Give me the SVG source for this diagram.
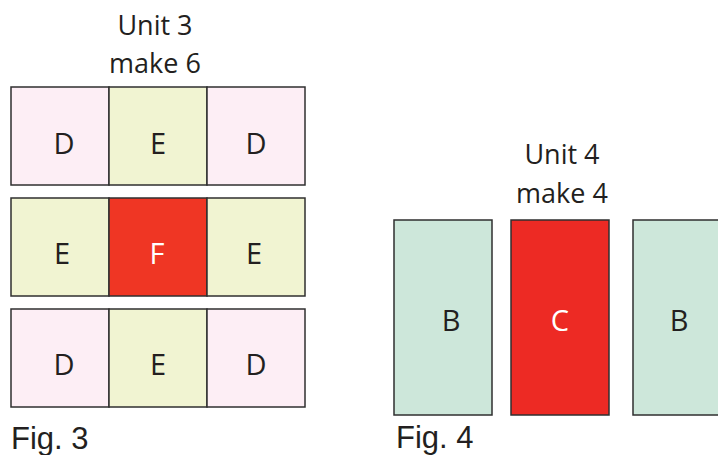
<svg xmlns="http://www.w3.org/2000/svg" width="718" height="455" viewBox="0 0 718 455">
<style>
.c{stroke:#2f2f2f;stroke-width:1.5}
.d{fill:#fdeef5}
.e{fill:#f1f4d2}
.f{fill:#ef3624}
.g{fill:#cde7da}
.r{fill:#ed2a24}
.t{font-family:"Open Sans","Noto Sans",sans-serif;font-size:27px;fill:#231f20;text-anchor:middle}
.l{font-size:29px}
.w{fill:#ffffff}
.fig{font-family:"Liberation Sans",Arial,sans-serif;font-size:31px;fill:#231f20}
</style>
<rect width="718" height="455" fill="#ffffff"/>
<g id="fig3">
<text class="t" x="155" y="35">Unit 3</text>
<text class="t" x="155" y="73">make 6</text>
<g id="r1">
<rect class="c d" x="11" y="87" width="98" height="98"/>
<rect class="c e" x="109" y="87" width="98" height="98"/>
<rect class="c d" x="207" y="87" width="98" height="98"/>
<text class="t l" x="64" y="154">D</text><text class="t l" x="158" y="154">E</text><text class="t l" x="256" y="154">D</text>
</g>
<g id="r2">
<rect class="c e" x="11" y="198" width="98" height="98"/>
<rect class="c f" x="109" y="198" width="98" height="98"/>
<rect class="c e" x="207" y="198" width="98" height="98"/>
<text class="t l" x="62" y="264">E</text><text class="t l w" x="157" y="264">F</text><text class="t l" x="254" y="264">E</text>
</g>
<g id="r3">
<rect class="c d" x="11" y="309" width="98" height="98"/>
<rect class="c e" x="109" y="309" width="98" height="98"/>
<rect class="c d" x="207" y="309" width="98" height="98"/>
<text class="t l" x="64" y="375">D</text><text class="t l" x="158" y="375">E</text><text class="t l" x="256" y="375">D</text>
</g>
<text class="fig" x="11" y="449">Fig. 3</text>
</g>
<g id="fig4">
<text class="t" x="562" y="164">Unit 4</text>
<text class="t" x="562" y="203">make 4</text>
<g id="b1"><rect class="c g" x="394" y="220" width="98" height="195"/><text class="t l" x="451" y="331">B</text></g>
<g id="c1"><rect class="c r" x="511" y="220" width="98" height="195"/><text class="t l w" x="560" y="331">C</text></g>
<g id="b2"><rect class="c g" x="633" y="220" width="98" height="195"/><text class="t l" x="679" y="331">B</text></g>
<text class="fig" x="396" y="448">Fig. 4</text>
</g>
</svg>
